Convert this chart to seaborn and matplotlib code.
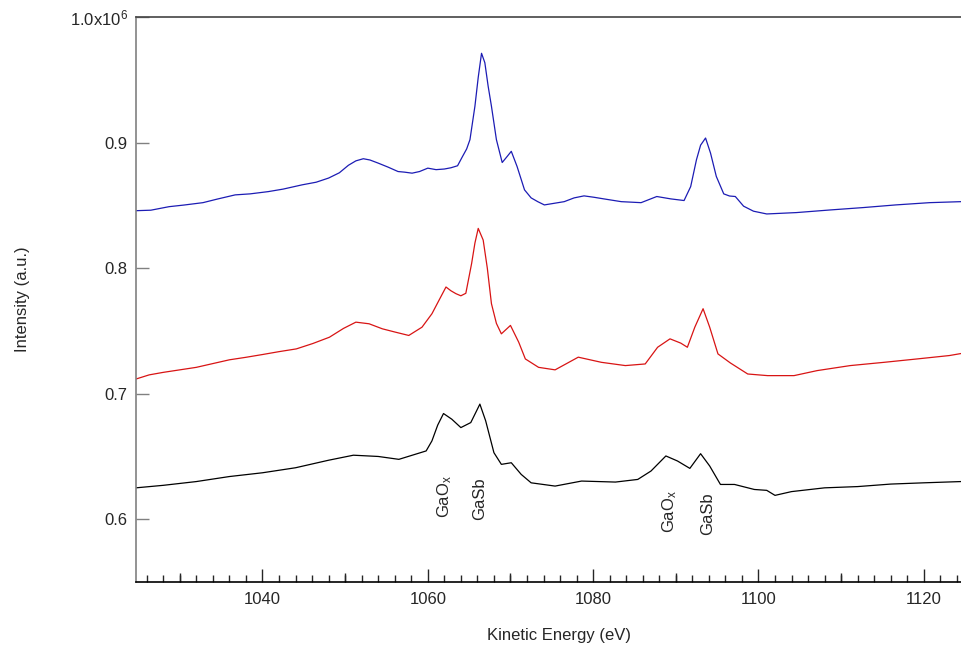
import pandas as pd
import matplotlib
matplotlib.use("Agg")
import matplotlib.pyplot as plt
from matplotlib.ticker import MultipleLocator, FixedLocator, NullFormatter
import seaborn as sns

# Spectra (intensity in units of 1e6)
blue_x = [1024.7, 1026.5, 1028.7, 1030.5, 1032.8, 1034.5, 1036.7, 1038.5, 1040.7, 1042.5,
          1044.8, 1046.5, 1048.0, 1049.3, 1050.4, 1051.3, 1052.2, 1053.0, 1054.0, 1055.2,
          1056.4, 1057.2, 1058.1, 1059.0, 1060.0, 1061.0, 1062.0, 1062.8, 1063.6, 1064.2,
          1064.7, 1065.1, 1065.7, 1066.1, 1066.5, 1066.9, 1067.3, 1067.7, 1068.3, 1069.0,
          1069.6, 1070.1, 1070.8, 1071.7, 1072.5, 1073.3, 1074.1, 1075.3, 1076.5, 1077.7,
          1078.9, 1080.1, 1081.3, 1083.4, 1085.8, 1087.7, 1089.4, 1091.0, 1091.8, 1092.5,
          1093.0, 1093.6, 1094.2, 1094.9, 1095.8, 1096.5, 1097.2, 1098.2, 1099.4, 1101.0,
          1104.6, 1108.7, 1112.7, 1116.6, 1120.7, 1124.5]
blue_y = [0.8458, 0.8462, 0.8490, 0.8503, 0.8522, 0.8550, 0.8584, 0.8592, 0.8610, 0.8630,
          0.8664, 0.8685, 0.8718, 0.8760, 0.8820, 0.8855, 0.8872, 0.8862, 0.8837, 0.8805,
          0.8770, 0.8765, 0.8757, 0.8770, 0.8797, 0.8785, 0.8790, 0.8800, 0.8816, 0.8890,
          0.8950, 0.9024, 0.9290, 0.9520, 0.9712, 0.9637, 0.9450, 0.9290, 0.9024, 0.8842,
          0.8890, 0.8931, 0.8810, 0.8624, 0.8560, 0.8530, 0.8504, 0.8517, 0.8530, 0.8560,
          0.8576, 0.8565, 0.8552, 0.8530, 0.8522, 0.8571, 0.8552, 0.8539, 0.8650, 0.8864,
          0.8980, 0.9037, 0.8917, 0.8731, 0.8592, 0.8575, 0.8571, 0.8494, 0.8454, 0.8432,
          0.8443, 0.8464, 0.8483, 0.8504, 0.8522, 0.8530]

red_x = [1024.7, 1026.3, 1028.0, 1030.0, 1032.0, 1034.0, 1036.0, 1038.0, 1040.0, 1042.0,
         1044.1, 1046.1, 1048.1, 1049.8, 1051.3, 1052.9, 1054.5, 1056.1, 1057.7, 1059.3,
         1060.5, 1061.4, 1062.2, 1062.8, 1063.4, 1064.0, 1064.6, 1065.3, 1065.7, 1066.1,
         1066.7, 1067.2, 1067.7, 1068.3, 1068.9, 1070.0, 1071.0, 1071.8, 1073.4, 1075.4,
         1078.2, 1081.0, 1083.9, 1086.3, 1087.8, 1089.3, 1090.6, 1091.4, 1092.3, 1093.3,
         1094.1, 1095.1, 1096.6, 1098.7, 1101.1, 1104.3, 1107.1, 1111.1, 1115.2, 1119.2,
         1123.1, 1124.5]
red_y = [0.7117, 0.7150, 0.7170, 0.7190, 0.7210, 0.7240, 0.7270, 0.7290, 0.7312, 0.7335,
         0.7357, 0.7400, 0.7450, 0.7520, 0.7570, 0.7557, 0.7517, 0.7490, 0.7464, 0.7530,
         0.7637, 0.7750, 0.7850, 0.7820, 0.7797, 0.7780, 0.7800, 0.8037, 0.8200, 0.8317,
         0.8224, 0.8000, 0.7717, 0.7560, 0.7477, 0.7544, 0.7410, 0.7277, 0.7210, 0.7190,
         0.7291, 0.7250, 0.7224, 0.7237, 0.7370, 0.7437, 0.7403, 0.7370, 0.7530, 0.7677,
         0.7530, 0.7317, 0.7245, 0.7157, 0.7144, 0.7144, 0.7184, 0.7224, 0.7250, 0.7277,
         0.7304, 0.7320]

black_x = [1024.7, 1028.0, 1032.0, 1036.0, 1040.0, 1044.0, 1048.0, 1051.0, 1054.0, 1056.5,
           1059.8, 1060.5, 1061.2, 1061.9, 1062.9, 1064.0, 1065.2, 1065.8, 1066.3, 1067.0,
           1068.0, 1068.9, 1070.1, 1071.3, 1072.5, 1075.4, 1078.6, 1082.7, 1085.4, 1087.0,
           1088.8, 1090.2, 1091.7, 1093.0, 1094.1, 1095.4, 1097.1, 1099.5, 1101.0, 1102.0,
           1104.0, 1108.0, 1112.0, 1116.0, 1120.0, 1124.5]
black_y = [0.6250, 0.6270, 0.6300, 0.6340, 0.6370, 0.6410, 0.6470, 0.6510, 0.6500, 0.6477,
           0.6544, 0.6624, 0.6750, 0.6842, 0.6797, 0.6730, 0.6770, 0.6850, 0.6917, 0.6784,
           0.6530, 0.6437, 0.6450, 0.6357, 0.6290, 0.6264, 0.6304, 0.6296, 0.6317, 0.6384,
           0.6504, 0.6464, 0.6405, 0.6522, 0.6424, 0.6277, 0.6277, 0.6237, 0.6230, 0.6190,
           0.6220, 0.6250, 0.6260, 0.6280, 0.6290, 0.6300]

# Peak labels (position, top of rotated text)
peak_labels = ["GaO$_x$", "GaSb", "GaO$_x$", "GaSb"]
peak_x = [1062.0, 1066.3, 1089.2, 1093.8]
peak_y = [0.635, 0.633, 0.623, 0.621]

ytick_values = [0.6, 0.7, 0.8, 0.9, 1.0]
ytick_labels = ["0.6", "0.7", "0.8", "0.9", "1.0x10$^6$"]

colors = {"top": "#1c1cb4", "middle": "#d81414", "bottom": "#000000"}

frames = []
for name, xs, ys in [("top", blue_x, blue_y), ("middle", red_x, red_y), ("bottom", black_x, black_y)]:
    frames.append(pd.DataFrame({"energy": xs, "intensity": [v * 1e6 for v in ys], "sample": name}))
df = pd.concat(frames, ignore_index=True)

sns.set_style("ticks")
plt.rcParams["font.family"] = ["Liberation Sans", "DejaVu Sans"]
plt.rcParams["mathtext.fontset"] = "custom"
plt.rcParams["mathtext.rm"] = "Liberation Sans"
plt.rcParams["mathtext.it"] = "Liberation Sans"

fig = plt.figure(figsize=(9.61, 6.47), dpi=100)
ax = fig.add_axes([0.1415, 0.1005, 0.8585, 0.873])

sns.lineplot(data=df, x="energy", y="intensity", hue="sample", palette=colors,
             estimator=None, sort=True, legend=False, linewidth=0.9, ax=ax)

for lab, px, py in zip(peak_labels, peak_x, peak_y):
    ax.text(px, py * 1e6, lab, rotation=90, ha="center", va="top", fontsize=12)

ax.set_xlim(1024.7, 1124.5)
ax.set_ylim(0.55e6, 1.0e6)

ax.xaxis.set_major_locator(MultipleLocator(20))
ax.xaxis.set_minor_locator(MultipleLocator(2))
ax.set_yticks([v * 1e6 for v in ytick_values])
ax.set_yticklabels(ytick_labels)

ax.tick_params(axis="x", which="major", direction="in", length=9.5, width=1, pad=7, labelsize=12)
ax.tick_params(axis="x", which="minor", direction="in", length=5, width=1)
ax.tick_params(axis="y", which="major", direction="in", length=9, width=1, pad=6,
               labelsize=12, color="#808080")

# medium ticks every 10 eV
sec = ax.secondary_xaxis("bottom")
sec.xaxis.set_major_locator(FixedLocator([1030, 1050, 1070, 1090, 1110]))
sec.xaxis.set_major_formatter(NullFormatter())
sec.tick_params(direction="in", length=6.5, width=1)
sec.spines["bottom"].set_visible(False)

ax.spines["right"].set_visible(False)
ax.spines["left"].set_color("#808080")
ax.spines["top"].set_color("#444444")
ax.spines["bottom"].set_color("#000000")
for s in ax.spines.values():
    s.set_linewidth(1.2)

ax.set_xlabel("Kinetic Energy (eV)", fontsize=12)
ax.set_ylabel("Intensity (a.u.)", fontsize=12)
ax.xaxis.set_label_coords(0.513, -0.081)
ax.yaxis.set_label_coords(-0.128, 0.5)

fig.savefig("out.png", dpi=100)
